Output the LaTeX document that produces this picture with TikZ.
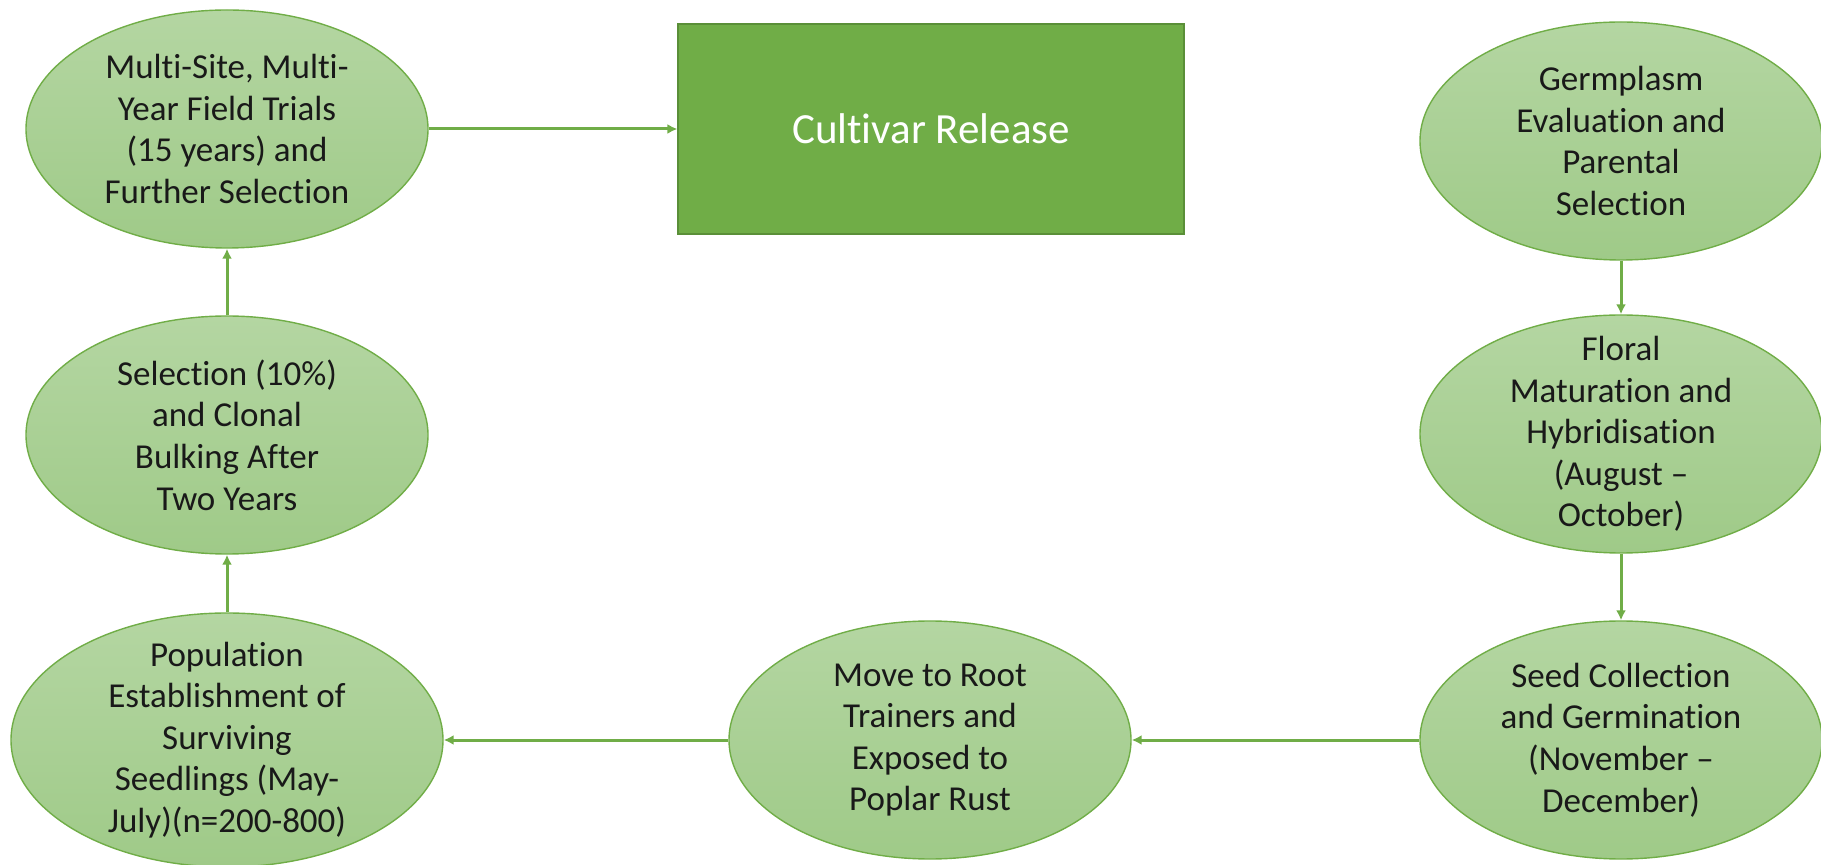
\documentclass[tikz,border=0pt]{standalone}
\usepackage{fontspec}
\setmainfont{Carlito}[Ligatures={NoCommon,NoContextual}]
\usetikzlibrary{arrows.meta,positioning,shapes.geometric}

\definecolor{leafline}{HTML}{70AD47}
\definecolor{leaftop}{HTML}{B4D6A2}
\definecolor{leafbot}{HTML}{9FCA88}
\definecolor{boxline}{HTML}{5A8F38}

\tikzset{
  stage/.style={ellipse, draw=leafline, line width=0.7pt,
                top color=leaftop, bottom color=leafbot,
                minimum width=201pt, minimum height=119pt,
                inner xsep=0pt, inner ysep=-8pt, align=center,
                font=\fontsize{17.5}{20.8}\selectfont, text=black!90},
  release/.style={rectangle, draw=boxline, line width=0.6pt, fill=leafline,
                minimum width=253pt, minimum height=105pt,
                font=\fontsize{21.5}{25}\selectfont, text=white},
  flow/.style={draw=leafline, line width=1.5pt,
                -{Latex[length=5pt,width=5pt]}}
}

\begin{document}
\begin{tikzpicture}
      \useasboundingbox (0,0) rectangle (910.5pt,-432.5pt);

      \node[stage]  (germ)    at (810.5pt,-70.5pt)
                {Germplasm\\Evaluation and\\Parental\\Selection};
      \node[stage]  (floral)  [below of=germ, node distance=146.5pt]
                {Floral\\Maturation and\\Hybridisation\\(August --\\October)};
      \node[stage]  (seed)    [below of=floral, node distance=153pt]
                {Seed Collection\\and Germination\\(November --\\December)};
      \node[stage]  (move)    [left of=seed, node distance=345.5pt]
                {Move to Root\\Trainers and\\Exposed to\\Poplar Rust};
      \node[stage, minimum width=216pt, minimum height=127pt]  (popul)
                [left of=move, node distance=351.5pt]
                {Population\\Establishment of\\Surviving\\Seedlings (May-\\July)(n=200-800)};
      \node[stage]  (select)  [above of=popul, node distance=152.5pt]
                {Selection (10\%)\\and Clonal\\Bulking After\\Two Years};
      \node[stage]  (multi)   [above of=select, node distance=153pt]
                {Multi-Site, Multi-\\Year Field Trials\\(15 years) and\\Further Selection};
      \node[release] (cultivar) [right of=multi, node distance=352pt]
                {Cultivar Release};

      \draw[flow] (germ)   -- (floral);
      \draw[flow] (floral) -- (seed);
      \draw[flow] (seed)   -- (move);
      \draw[flow] (move)   -- (popul);
      \draw[flow] (popul)  -- (select);
      \draw[flow] (select) -- (multi);
      \draw[flow] (multi)  -- (cultivar);
\end{tikzpicture}
\end{document}
